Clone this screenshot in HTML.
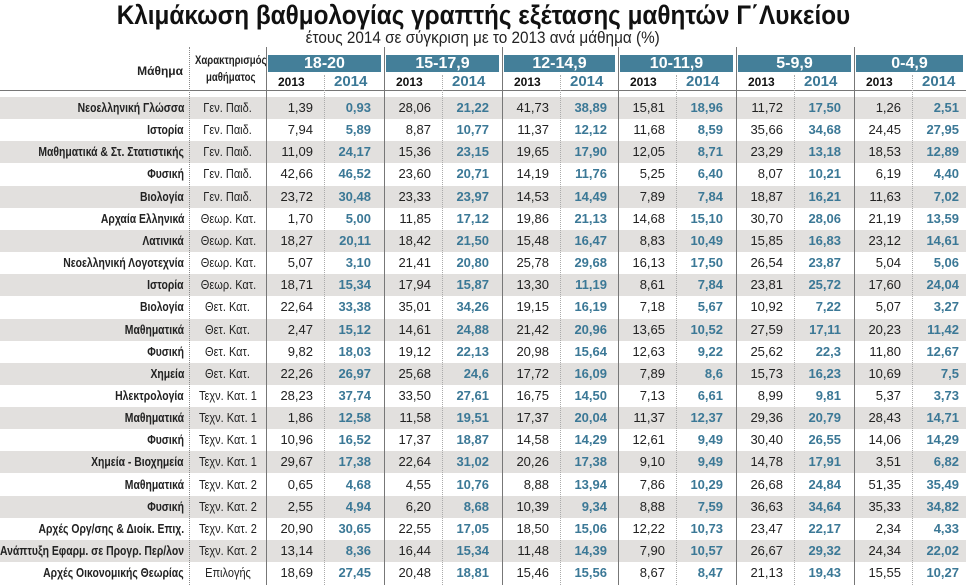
<!DOCTYPE html>
<html><head><meta charset="utf-8"><style>
body{margin:0;width:966px;height:585px;background:#fff;position:relative;overflow:hidden;font-family:"Liberation Sans Narrow","Liberation Sans",sans-serif;}
.a{position:absolute;white-space:nowrap;}
.t{left:0;width:966px;text-align:center;top:0;font-size:27px;font-weight:bold;color:#111;}
.t span{display:inline-block;transform:scaleX(.9);}
.s span{display:inline-block;transform:scaleX(.9);}
.s{left:0;width:966px;text-align:center;top:28px;font-size:17px;color:#222;}
.sh{position:absolute;left:0;width:966px;height:22px;background:#e2e0de;}
.c{position:absolute;font-size:13px;color:#222;line-height:22px;white-space:nowrap;}
.r{text-align:right;}
.b{font-weight:bold;color:#3b7896;}
.lab{font-weight:bold;color:#222;}
.vl{position:absolute;top:47px;height:538px;border-left:1px solid #777;}
.dl{position:absolute;top:47px;height:538px;border-left:1px dotted #888;}
.ddl{position:absolute;top:75px;height:510px;border-left:1px dotted #aaa;}
.hb{position:absolute;top:55px;height:17px;background:#447f99;color:#fff;font-weight:bold;font-size:16px;text-align:center;line-height:17px;}
.yr{position:absolute;top:73px;font-weight:bold;line-height:18px;}
.sc{display:inline-block;transform-origin:right;}
</style></head><body>
<div class="a t"><span>Κλιμάκωση βαθμολογίας γραπτής εξέτασης μαθητών Γ΄Λυκείου</span></div>
<div class="a s"><span>έτους 2014 σε σύγκριση με το 2013 ανά μάθημα (%)</span></div>
<div id="g"></div>
<script>
const rows=[
["Νεοελληνική Γλώσσα","Γεν. Παιδ.","1,39 0,93 28,06 21,22 41,73 38,89 15,81 18,96 11,72 17,50 1,26 2,51"],
["Ιστορία","Γεν. Παιδ.","7,94 5,89 8,87 10,77 11,37 12,12 11,68 8,59 35,66 34,68 24,45 27,95"],
["Μαθηματικά & Στ. Στατιστικής","Γεν. Παιδ.","11,09 24,17 15,36 23,15 19,65 17,90 12,05 8,71 23,29 13,18 18,53 12,89"],
["Φυσική","Γεν. Παιδ.","42,66 46,52 23,60 20,71 14,19 11,76 5,25 6,40 8,07 10,21 6,19 4,40"],
["Βιολογία","Γεν. Παιδ.","23,72 30,48 23,33 23,97 14,53 14,49 7,89 7,84 18,87 16,21 11,63 7,02"],
["Αρχαία Ελληνικά","Θεωρ. Κατ.","1,70 5,00 11,85 17,12 19,86 21,13 14,68 15,10 30,70 28,06 21,19 13,59"],
["Λατινικά","Θεωρ. Κατ.","18,27 20,11 18,42 21,50 15,48 16,47 8,83 10,49 15,85 16,83 23,12 14,61"],
["Νεοελληνική Λογοτεχνία","Θεωρ. Κατ.","5,07 3,10 21,41 20,80 25,78 29,68 16,13 17,50 26,54 23,87 5,04 5,06"],
["Ιστορία","Θεωρ. Κατ.","18,71 15,34 17,94 15,87 13,30 11,19 8,61 7,84 23,81 25,72 17,60 24,04"],
["Βιολογία","Θετ. Κατ.","22,64 33,38 35,01 34,26 19,15 16,19 7,18 5,67 10,92 7,22 5,07 3,27"],
["Μαθηματικά","Θετ. Κατ.","2,47 15,12 14,61 24,88 21,42 20,96 13,65 10,52 27,59 17,11 20,23 11,42"],
["Φυσική","Θετ. Κατ.","9,82 18,03 19,12 22,13 20,98 15,64 12,63 9,22 25,62 22,3 11,80 12,67"],
["Χημεία","Θετ. Κατ.","22,26 26,97 25,68 24,6 17,72 16,09 7,89 8,6 15,73 16,23 10,69 7,5"],
["Ηλεκτρολογία","Τεχν. Κατ. 1","28,23 37,74 33,50 27,61 16,75 14,50 7,13 6,61 8,99 9,81 5,37 3,73"],
["Μαθηματικά","Τεχν. Κατ. 1","1,86 12,58 11,58 19,51 17,37 20,04 11,37 12,37 29,36 20,79 28,43 14,71"],
["Φυσική","Τεχν. Κατ. 1","10,96 16,52 17,37 18,87 14,58 14,29 12,61 9,49 30,40 26,55 14,06 14,29"],
["Χημεία - Βιοχημεία","Τεχν. Κατ. 1","29,67 17,38 22,64 31,02 20,26 17,38 9,10 9,49 14,78 17,91 3,51 6,82"],
["Μαθηματικά","Τεχν. Κατ. 2","0,65 4,68 4,55 10,76 8,88 13,94 7,86 10,29 26,68 24,84 51,35 35,49"],
["Φυσική","Τεχν. Κατ. 2","2,55 4,94 6,20 8,68 10,39 9,34 8,88 7,59 36,63 34,64 35,33 34,82"],
["Αρχές Οργ/σης & Διοίκ. Επιχ.","Τεχν. Κατ. 2","20,90 30,65 22,55 17,05 18,50 15,06 12,22 10,73 23,47 22,17 2,34 4,33"],
["Ανάπτυξη Εφαρμ. σε Προγρ. Περ/λον","Τεχν. Κατ. 2","13,14 8,36 16,44 15,34 11,48 14,39 7,90 10,57 26,67 29,32 24,34 22,02"],
["Αρχές Οικονομικής Θεωρίας","Επιλογής","18,69 27,45 20,48 18,81 15,46 15,56 8,67 8,47 21,13 19,43 15,55 10,27"]];
const groups=["18-20","15-17,9","12-14,9","10-11,9","5-9,9","0-4,9"];
const g0=[266,384,502,618,736,854];
let h='';
rows.forEach((r,i)=>{const y=97+i*22.15;if(i%2==0)h+=`<div class="sh" style="top:${y}px"></div>`;});
h+=`<div class="a" style="left:0;top:90px;width:966px;border-top:1px solid #777"></div>`;
h+=`<div class="dl" style="left:189px"></div>`;
g0.forEach((x,k)=>{h+=`<div class="vl" style="left:${x}px"></div><div class="ddl" style="left:${x+58}px"></div>`;
 const w=(k==5?966:g0[k+1])-x-5;
 h+=`<div class="hb" style="left:${x+2}px;width:${w}px">${groups[k]}</div>`;
 h+=`<div class="yr" style="left:${x+12}px;font-size:12px;color:#111">2013</div>`;
 h+=`<div class="yr" style="left:${x+68}px;font-size:15px;color:#3b7896">2014</div>`;});
h+=`<div class="c lab r" style="left:0;width:183px;top:64px;line-height:14px;font-size:12px">Μάθημα</div>`;
h+=`<div class="c lab" style="left:186px;width:84px;top:52px;line-height:17px;font-size:12px;text-align:center"><span style="display:inline-block;transform:scaleX(.8)">Χαρακτηρισμός<br>μαθήματος</span></div>`;
rows.forEach((r,i)=>{const y=97+i*22.15;
 h+=`<div class="c lab r" style="left:-200px;width:384px;top:${y}px;font-size:13px"><span class="sc" style="transform:scaleX(.8)">${r[0]}</span></div>`;
 h+=`<div class="c" style="left:190px;width:76px;top:${y}px;text-align:center;font-size:12.5px"><span style="display:inline-block;transform:scaleX(.88)">${r[1]}</span></div>`;
 const v=r[2].split(' ');
 g0.forEach((x,k)=>{
  h+=`<div class="c r" style="left:${x}px;width:47px;top:${y}px">${v[2*k]}</div>`;
  h+=`<div class="c r b" style="left:${x+58}px;width:47px;top:${y}px">${v[2*k+1]}</div>`;});
});
document.getElementById('g').innerHTML=h;
</script>
</body></html>
